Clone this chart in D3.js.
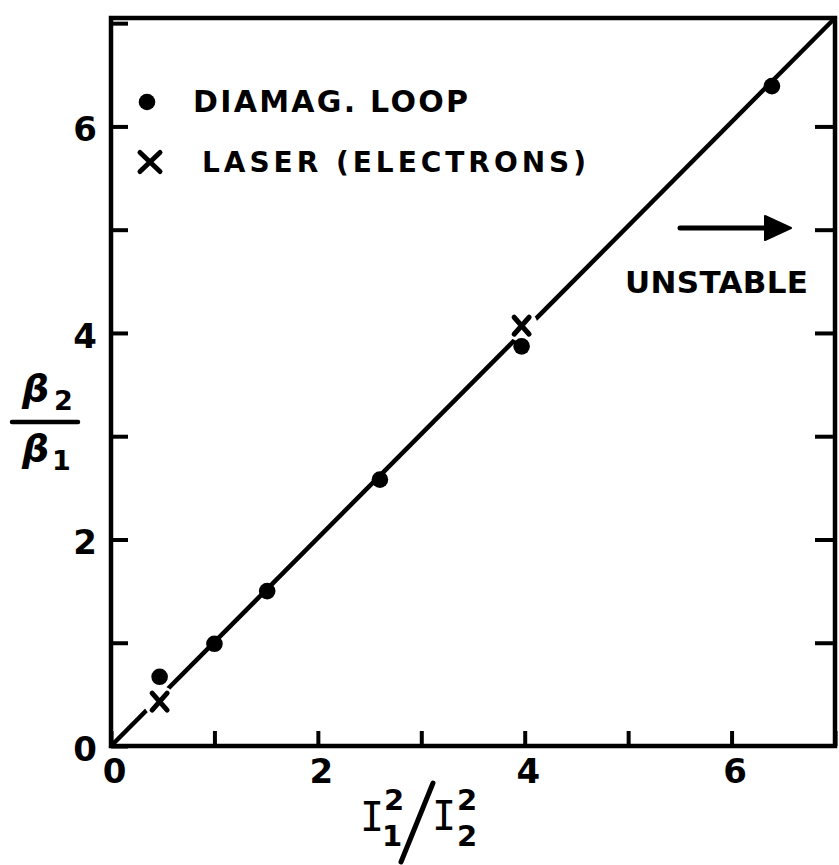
<!DOCTYPE html>
<html>
<head>
<meta charset="utf-8">
<script src="https://cdn.jsdelivr.net/npm/d3@7"></script>
<style>
  html, body { margin: 0; padding: 0; background: #fff; }
  svg { display: block; }
</style>
</head>
<body>
<svg id="chart" width="839" height="865"></svg>
<script>
// Diamagnetic loop measurements (filled dots)
const diamagX = [0.47, 1.0, 1.51, 2.6, 3.97, 6.39];
const diamagY = [0.67, 0.99, 1.50, 2.58, 3.87, 6.39];
// Laser (electron) measurements (crosses)
const laserX = [0.47, 3.97];
const laserY = [0.43, 4.07];
// Axis ticks
const tickValues = [0, 1, 2, 3, 4, 5, 6, 7];
const tickLabels = ["0", "", "2", "", "4", "", "6", ""];
// Legend entries
const legendLabels = ["DIAMAG. LOOP", "LASER (ELECTRONS)"];
const annotationLabel = "UNSTABLE";

const svg = d3.select("#chart");
const x = d3.scaleLinear().domain([0, 7]).range([111, 835]);
const y = d3.scaleLinear().domain([0, 7.05]).range([746, 18]);

const ink = "#000";
const fmt = (d, i) => tickLabels[i];

// Text helper: explicit font settings via inline style
function label(parent, tx, ty, str, size, opts = {}) {
  return parent.append("text")
    .attr("x", tx).attr("y", ty)
    .style("font-family", opts.family || "'DejaVu Sans', sans-serif")
    .style("font-weight", opts.weight || "bold")
    .style("font-style", opts.style || "normal")
    .style("font-size", size + "px")
    .attr("fill", ink)
    .text(str);
}

// Frame around the plot
svg.append("rect")
  .attr("x", x(0)).attr("y", y(7.05))
  .attr("width", x(7) - x(0)).attr("height", y(0) - y(7.05))
  .attr("fill", "none").attr("stroke", ink).attr("stroke-width", 4.5);

// Bottom axis: inward ticks, labels on even values
const gx = svg.append("g").attr("transform", `translate(0,${y(0)})`)
  .call(d3.axisBottom(x).tickValues(tickValues).tickFormat(fmt).tickSizeInner(-15).tickSizeOuter(0).tickPadding(18));
gx.select(".domain").remove();
gx.selectAll(".tick line").attr("stroke", ink).attr("stroke-width", 4);
gx.selectAll(".tick text")
  .style("font-size", "34px").style("font-family", "'DejaVu Sans', sans-serif").style("font-weight", "bold")
  .attr("dx", 3).attr("dy", "0.55em").attr("fill", ink);

// Left axis
const gy = svg.append("g").attr("transform", `translate(${x(0)},0)`)
  .call(d3.axisLeft(y).tickValues(tickValues).tickFormat(fmt).tickSizeInner(-17).tickSizeOuter(0).tickPadding(14));
gy.select(".domain").remove();
gy.selectAll(".tick line").attr("stroke", ink).attr("stroke-width", 4);
gy.selectAll(".tick text")
  .style("font-size", "34px").style("font-family", "'DejaVu Sans', sans-serif").style("font-weight", "bold")
  .attr("dy", "0.42em").attr("fill", ink);

// Right axis: ticks only
const gr = svg.append("g").attr("transform", `translate(${x(7)},0)`)
  .call(d3.axisRight(y).tickValues(tickValues.slice(1, 7)).tickFormat("").tickSizeInner(-20).tickSizeOuter(0));
gr.select(".domain").remove();
gr.selectAll(".tick line").attr("stroke", ink).attr("stroke-width", 4);

// Proportionality line from the origin to the top-right corner
svg.append("line")
  .attr("x1", x(0)).attr("y1", y(0))
  .attr("x2", x(7)).attr("y2", y(7.05))
  .attr("stroke", ink).attr("stroke-width", 4.5);

// White gaps in the line around the crosses
svg.selectAll("circle.halo").data(laserX).join("circle")
  .attr("class", "halo")
  .attr("cx", d => x(d)).attr("cy", (d, i) => y(laserY[i]))
  .attr("r", 16).attr("fill", "#fff");

// Diamagnetic loop points
svg.selectAll("circle.dot").data(diamagX).join("circle")
  .attr("class", "dot")
  .attr("cx", d => x(d)).attr("cy", (d, i) => y(diamagY[i]))
  .attr("r", 8.3).attr("fill", ink);

// Cross marker path
function cross(cx, cy, w, h) {
  return `M${cx - w / 2},${cy - h / 2}L${cx + w / 2},${cy + h / 2}M${cx + w / 2},${cy - h / 2}L${cx - w / 2},${cy + h / 2}`;
}
svg.selectAll("path.cross").data(laserX).join("path")
  .attr("class", "cross")
  .attr("d", (d, i) => cross(x(d), y(laserY[i]), 15, 17))
  .attr("stroke", ink).attr("stroke-width", 5).attr("stroke-linecap", "round").attr("fill", "none");

// Legend
svg.append("circle").attr("cx", 147).attr("cy", 102).attr("r", 8.3).attr("fill", ink);
label(svg, 193, 112, legendLabels[0], 30).attr("textLength", 275).attr("lengthAdjust", "spacing");
svg.append("path").attr("d", cross(150, 162, 20, 19))
  .attr("stroke", ink).attr("stroke-width", 5).attr("stroke-linecap", "round").attr("fill", "none");
label(svg, 202, 172, legendLabels[1], 28).attr("textLength", 384).attr("lengthAdjust", "spacing");

// Unstable-region annotation with arrow
svg.append("line").attr("x1", 680).attr("y1", 228).attr("x2", 770).attr("y2", 228)
  .attr("stroke", ink).attr("stroke-width", 5).attr("stroke-linecap", "round");
svg.append("path").attr("d", "M765,216L791,228L765,240Z").attr("fill", ink)
  .attr("stroke", ink).attr("stroke-width", 2).attr("stroke-linejoin", "round");
label(svg, 625, 293, annotationLabel, 31).attr("textLength", 183).attr("lengthAdjust", "spacing");

// Y-axis label: beta2 over beta1
const yl = svg.append("g");
label(yl, 22, 401, "β", 38, { style: "italic" });
label(yl, 54, 410, "2", 27);
yl.append("line").attr("x1", 12).attr("x2", 78).attr("y1", 422).attr("y2", 422)
  .attr("stroke", ink).attr("stroke-width", 4.5).attr("stroke-linecap", "round");
label(yl, 22, 461, "β", 38, { style: "italic" });
label(yl, 52, 470, "1", 27);

// X-axis label: I1^2 / I2^2 with a long diagonal fraction stroke
const xl = svg.append("g");
label(xl, 360, 831, "I", 40, { family: "'DejaVu Sans Mono', monospace", weight: "normal" });
label(xl, 384, 810, "2", 29);
label(xl, 382, 846, "1", 29);
xl.append("line").attr("x1", 433).attr("y1", 783).attr("x2", 401).attr("y2", 862)
  .attr("stroke", ink).attr("stroke-width", 5).attr("stroke-linecap", "round");
label(xl, 432, 830, "I", 40, { family: "'DejaVu Sans Mono', monospace", weight: "normal" });
label(xl, 457, 810, "2", 29);
label(xl, 457, 846, "2", 29);
</script>
</body>
</html>
